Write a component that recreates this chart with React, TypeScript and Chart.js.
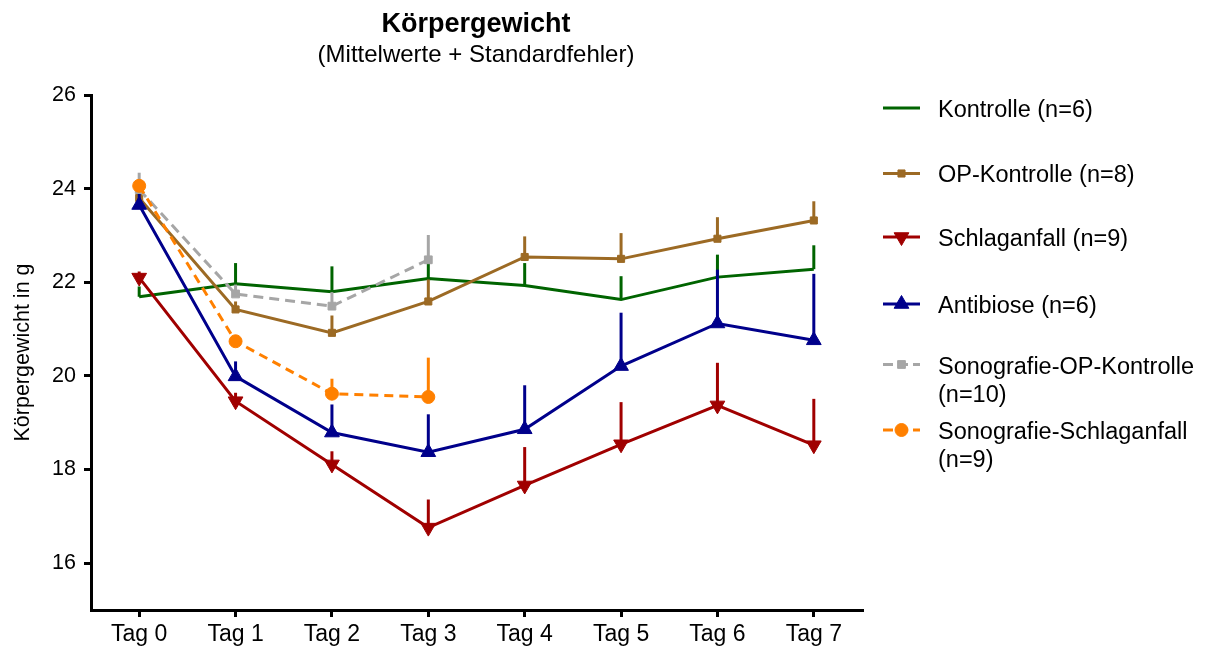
import React, { useEffect, useRef } from "react";
import { Chart, registerables } from "chart.js";

Chart.register(...registerables);

const labels = ["Tag 0", "Tag 1", "Tag 2", "Tag 3", "Tag 4", "Tag 5", "Tag 6", "Tag 7"];
const yTicks = [16, 18, 20, 22, 24, 26];

const kontrolle = [21.69, 21.97, 21.8, 22.08, 21.93, 21.63, 22.11, 22.28];
const kontrolleSE = [0.22, 0.44, 0.54, 0.47, 0.48, 0.5, 0.48, 0.51];

const opKontrolle = [23.8, 21.42, 20.92, 21.59, 22.54, 22.5, 22.93, 23.32];
const opKontrolleSE = [0.2, 0.17, 0.37, 0.47, 0.44, 0.55, 0.46, 0.41];

const schlaganfall = [22.1, 19.46, 18.11, 16.76, 17.66, 18.54, 19.37, 18.52];
const schlaganfallSE = [0.13, 0.18, 0.28, 0.6, 0.82, 0.9, 0.91, 0.99];

const antibiose = [23.65, 19.99, 18.79, 18.37, 18.86, 20.21, 21.12, 20.76];
const antibioseSE = [0.29, 0.32, 0.6, 0.81, 0.94, 1.14, 1.15, 1.42];

const sonoOpKontrolle = [23.98, 21.75, 21.49, 22.48, null, null, null, null];
const sonoOpKontrolleSE = [0.36, 0.2, 0.3, 0.53, null, null, null, null];

const sonoSchlaganfall = [24.06, 20.74, 19.62, 19.55, null, null, null, null];
const sonoSchlaganfallSE = [0.1, 0.1, 0.32, 0.84, null, null, null, null];

const seriesNames = [
  ["Kontrolle (n=6)"],
  ["OP-Kontrolle (n=8)"],
  ["Schlaganfall (n=9)"],
  ["Antibiose (n=6)"],
  ["Sonografie-OP-Kontrolle", "(n=10)"],
  ["Sonografie-Schlaganfall", "(n=9)"],
];

const FONT = "'Liberation Sans', Arial, sans-serif";

const colors = ["#006400", "#9C6A24", "#A00000", "#00008B", "#A6A6A6", "#FF8000"];
const markers = ["none", "rect", "triangleDown", "triangle", "rect", "circle"];
const markerSizes = [0, 5, 8.5, 8.5, 5.5, 6.5];
const dashes: number[][] = [[], [], [], [], [10, 6], [9, 6]];
const seList = [kontrolleSE, opKontrolleSE, schlaganfallSE, antibioseSE, sonoOpKontrolleSE, sonoSchlaganfallSE];
const valueList = [kontrolle, opKontrolle, schlaganfall, antibiose, sonoOpKontrolle, sonoSchlaganfall];

function drawMarker(ctx: CanvasRenderingContext2D, kind: string, x: number, y: number, r: number, color: string) {
  ctx.save();
  ctx.fillStyle = color;
  ctx.strokeStyle = color;
  ctx.lineWidth = 1;
  ctx.setLineDash([]);
  ctx.beginPath();
  if (kind === "rect") {
    const s = Math.SQRT1_2 * r;
    ctx.rect(x - s, y - s, 2 * s, 2 * s);
  } else if (kind === "circle") {
    ctx.arc(x, y, r, 0, Math.PI * 2);
  } else if (kind === "triangle" || kind === "triangleDown") {
    let rad = kind === "triangle" ? 0 : Math.PI;
    ctx.moveTo(x + Math.sin(rad) * r, y - Math.cos(rad) * r);
    rad += (2 * Math.PI) / 3;
    ctx.lineTo(x + Math.sin(rad) * r, y - Math.cos(rad) * r);
    rad += (2 * Math.PI) / 3;
    ctx.lineTo(x + Math.sin(rad) * r, y - Math.cos(rad) * r);
    ctx.closePath();
  } else {
    ctx.restore();
    return;
  }
  ctx.fill();
  ctx.stroke();
  ctx.restore();
}

const errorBarPlugin = {
  id: "errorBars",
  beforeDatasetDraw(chart: any, args: any) {
    const i = args.index;
    const meta = args.meta;
    const se = seList[i];
    const vals = valueList[i];
    const yScale = chart.scales.y;
    const ctx = chart.ctx as CanvasRenderingContext2D;
    ctx.save();
    ctx.strokeStyle = colors[i];
    ctx.lineWidth = 3;
    ctx.lineCap = "butt";
    ctx.setLineDash([]);
    meta.data.forEach((pt: any, k: number) => {
      const v = vals[k];
      const e = se[k];
      if (v == null || e == null) return;
      const y1 = yScale.getPixelForValue(v + e);
      ctx.beginPath();
      ctx.moveTo(pt.x, pt.y);
      ctx.lineTo(pt.x, y1);
      ctx.stroke();
    });
    ctx.restore();
  },
};

const decorPlugin = {
  id: "decor",
  afterDraw(chart: any) {
    const ctx = chart.ctx as CanvasRenderingContext2D;
    ctx.save();
    ctx.fillStyle = "#000";
    ctx.textAlign = "center";
    ctx.textBaseline = "alphabetic";
    ctx.font = `bold 27px ${FONT}`;
    ctx.fillText("Körpergewicht", 476, 32);
    ctx.font = `24px ${FONT}`;
    ctx.fillText("(Mittelwerte + Standardfehler)", 476, 62);

    // legend
    const iconY = [108, 173.5, 237, 304, 364.5, 430];
    const baseY = [117, 182, 246, 312.5, 373.5, 438.5];
    const lineGap = 28.5;
    ctx.textAlign = "left";
    ctx.font = `23.5px ${FONT}`;
    for (let i = 0; i < seriesNames.length; i++) {
      const y = iconY[i];
      ctx.save();
      ctx.strokeStyle = colors[i];
      ctx.lineWidth = 3;
      ctx.setLineDash(dashes[i].length ? [10, 5] : []);
      ctx.beginPath();
      ctx.moveTo(883, y);
      ctx.lineTo(920, y);
      ctx.stroke();
      ctx.restore();
      drawMarker(ctx, markers[i], 901.5, y, markerSizes[i], colors[i]);
      ctx.fillStyle = "#000";
      seriesNames[i].forEach((t, k) => {
        ctx.fillText(t, 938, baseY[i] + k * lineGap);
      });
    }
    ctx.restore();
  },
};

function pointStyleOf(kind: string) {
  if (kind === "triangleDown") return "triangle";
  if (kind === "none") return "circle";
  return kind;
}

export default function App() {
  const ref = useRef<HTMLCanvasElement | null>(null);
  useEffect(() => {
    if (!ref.current) return;
    const datasets = valueList.map((vals, i) => ({
      label: seriesNames[i].join(" "),
      data: vals,
      borderColor: colors[i],
      backgroundColor: colors[i],
      borderWidth: 3,
      borderDash: dashes[i],
      tension: 0,
      spanGaps: false,
      pointStyle: pointStyleOf(markers[i]) as any,
      rotation: markers[i] === "triangleDown" ? 180 : 0,
      pointRadius: markerSizes[i],
      pointHoverRadius: markerSizes[i],
      pointBorderWidth: 1,
      pointBorderColor: colors[i],
      pointBackgroundColor: colors[i],
      order: 6 - i,
    }));
    const chart = new Chart(ref.current, {
      type: "line",
      data: { labels, datasets },
      options: {
        animation: false,
        responsive: false,
        devicePixelRatio: 1,
        layout: { padding: { left: 0, right: 345, top: 95, bottom: 0 } },
        plugins: {
          legend: { display: false },
          title: { display: false },
          tooltip: { enabled: false },
        },
        scales: {
          x: {
            type: "category",
            offset: true,
            afterFit: (s: any) => {
              s.height = 648 - 610;
            },
            grid: {
              display: true,
              drawOnChartArea: false,
              drawTicks: true,
              tickLength: 7,
              color: "#000",
              lineWidth: 3,
              offset: false,
            },
            border: { display: true, color: "#000", width: 3 },
            ticks: {
              color: "#000",
              font: { family: FONT, size: 23 },
              padding: 4,
              maxRotation: 0,
              autoSkip: false,
            },
          },
          y: {
            type: "linear",
            min: 15,
            max: 26,
            afterFit: (s: any) => {
              s.width = 91;
            },
            afterBuildTicks: (s: any) => {
              s.ticks = yTicks.map((v) => ({ value: v }));
            },
            grid: {
              display: true,
              drawOnChartArea: false,
              drawTicks: true,
              tickLength: 7,
              color: "#000",
              lineWidth: 3,
            },
            border: { display: true, color: "#000", width: 3 },
            ticks: {
              color: "#000",
              font: { family: FONT, size: 21.5 },
              padding: 8,
            },
            title: {
              display: true,
              text: "Körpergewicht in g",
              color: "#000",
              font: { family: FONT, size: 21.5 },
              padding: { top: 10, bottom: 0 },
            },
          },
        },
      },
      plugins: [errorBarPlugin, decorPlugin],
    });
    return () => chart.destroy();
  }, []);
  return (
    <div style={{ position: "fixed", left: 0, top: 0, width: 1207, height: 648, background: "#fff" }}>
      <canvas ref={ref} width={1207} height={648} style={{ width: 1207, height: 648, display: "block" }} />
    </div>
  );
}
